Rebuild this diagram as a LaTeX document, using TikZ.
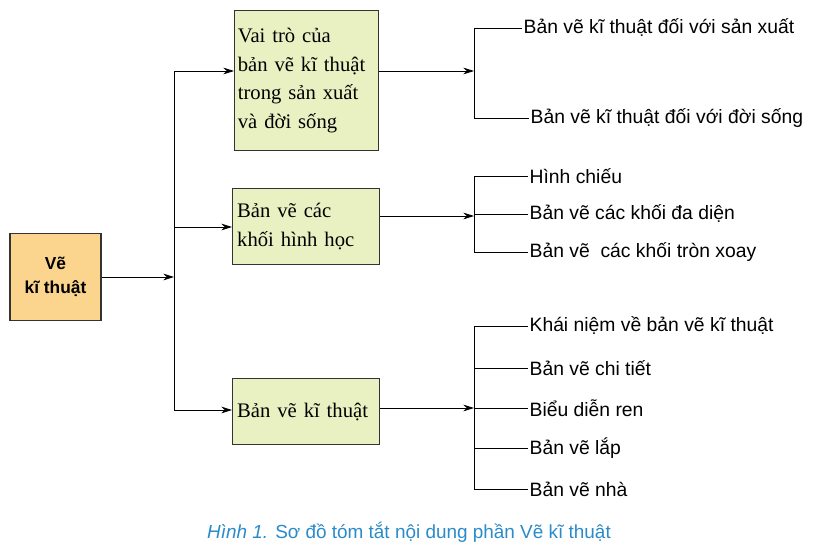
\documentclass[tikz,border=0pt]{standalone}
\usepackage{fontspec}
\setmainfont{Liberation Serif}
\setsansfont{Liberation Sans}
\usetikzlibrary{arrows.meta}
\definecolor{boxg}{HTML}{E9F1C3}
\definecolor{boxo}{HTML}{FBD48E}
\definecolor{capb}{HTML}{2A8BC8}
\begin{document}
\begin{tikzpicture}[x=0.75pt,y=-0.75pt,
  gbox/.style={draw=black!80,line width=0.8pt,fill=boxg,anchor=north west,inner sep=0pt,align=left,font=\fontsize{15.5}{21.5}\selectfont},
  lab/.style={anchor=west,font=\sffamily\fontsize{14.5}{17}\selectfont,inner sep=1pt},
  arr/.style={-{Stealth[length=8pt,width=5pt]},line width=0.6pt},
  ln/.style={line width=0.6pt}]
\useasboundingbox (0,0) rectangle (814,550);
\node[draw=black!80,line width=0.8pt,fill=boxo,minimum width=91*0.75pt,minimum height=87*0.75pt,align=center,font=\sffamily\bfseries\fontsize{13}{18}\selectfont] (root) at (55.5,277) {Vẽ\\kĩ thuật};
\node[gbox,minimum width=144*0.75pt,minimum height=140*0.75pt,text width=140*0.75pt] (b1) at (234,10) {\hspace*{1pt}Vai trò của\\\hspace*{1pt}bản vẽ kĩ thuật\\\hspace*{1pt}trong sản xuất\\\hspace*{1pt}và đời sống};
\node[gbox,minimum width=147*0.75pt,minimum height=76*0.75pt,text width=143*0.75pt] (b2) at (232,188) {\hspace*{2pt}Bản vẽ các\\\hspace*{2pt}khối hình học};
\node[gbox,minimum width=147*0.75pt,minimum height=66*0.75pt,text width=143*0.75pt] (b3) at (232,378) {\hspace*{2pt}Bản vẽ kĩ thuật};
\coordinate (j) at (174,277);
\draw[arr] (root.east) -- (j);
\draw[ln] (174,71) -- (174,410);
\draw[arr] (174,71) -- (b1.west|-0,71);
\draw[arr] (174,227) -- (b2.west|-0,227);
\draw[arr] (174,410) -- (b3.west|-0,410);
% group 1
\coordinate (k1) at (474,71);
\draw[arr] (b1.east|-0,71) -- (k1);
\draw[ln] (474,28) -- (474,118);
\node[lab] (l11) at (522,28) {Bản vẽ kĩ thuật đối với sản xuất};
\node[lab] (l12) at (529,118) {Bản vẽ kĩ thuật đối với đời sống};
\draw[ln] (474,28) -- (l11.west);
\draw[ln] (474,118) -- (l12.west);
% group 2
\coordinate (k2) at (474,216);
\draw[arr] (b2.east|-0,216) -- (k2);
\draw[ln] (474,176) -- (474,252);
\foreach \t/\y/\n in {Hình chiếu/176/a,Bản vẽ các khối đa diện/214/b,Bản vẽ\ \ các khối tròn xoay/252/c}{
  \node[lab] (l2\n) at (528,\y) {\t};
  \draw[ln] (474,\y) -- (l2\n.west);}
% group 3
\coordinate (k3) at (474,408);
\draw[arr] (b3.east|-0,408) -- (k3);
\draw[ln] (474,326) -- (474,489);
\foreach \t/\y/\n in {Khái niệm về bản vẽ kĩ thuật/326/a,Bản vẽ chi tiết/368/b,Biểu diễn ren/408/c,Bản vẽ lắp/448/d,Bản vẽ nhà/489/e}{
  \node[lab] (l3\n) at (528,\y) {\t};
  \draw[ln] (474,\y) -- (l3\n.west);}
\node[text=capb,font=\sffamily\fontsize{14.2}{16}\selectfont] (cap) at (409,532) {\textit{Hình 1.} Sơ đồ tóm tắt nội dung phần Vẽ kĩ thuật};
\end{tikzpicture}
\end{document}
